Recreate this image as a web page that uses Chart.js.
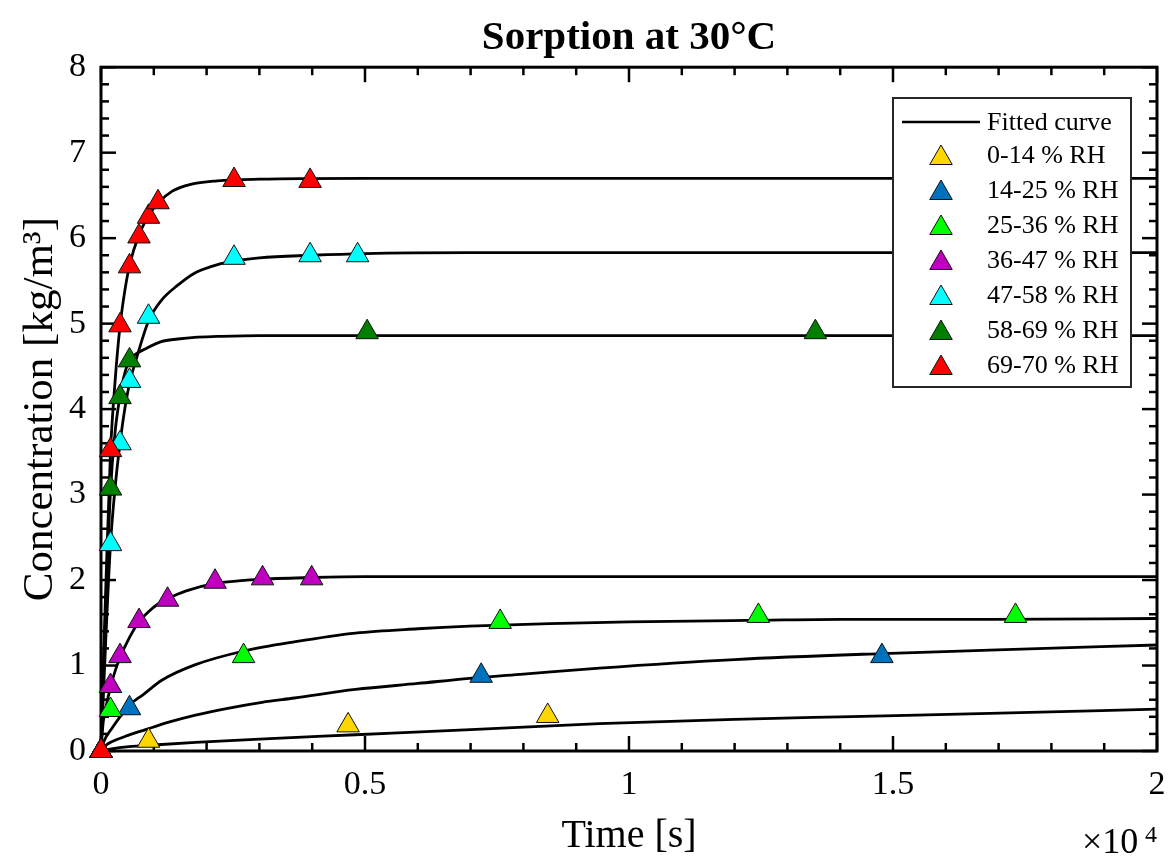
<!DOCTYPE html>
<html>
<head>
<meta charset="utf-8">
<script src="https://cdn.jsdelivr.net/npm/chart.js@4/dist/chart.umd.min.js"></script>
<style>
  html, body { margin: 0; padding: 0; background: #fff; }
  #wrap { width: 1171px; height: 862px; }
</style>
</head>
<body>
<div id="wrap"><canvas id="c" width="1171" height="862"></canvas></div>
<script>
// ---------------- DATA ----------------
const seriesLabels = ['0-14 % RH', '14-25 % RH', '25-36 % RH', '36-47 % RH', '47-58 % RH', '58-69 % RH', '69-70 % RH'];
const fitLabel = 'Fitted curve';
const titleText = 'Sorption at 30°C';
const xTitle = 'Time [s]';
const yTitle = 'Concentration [kg/m³]';
const xTickValues = [0, 5000, 10000, 15000, 20000];
const xTickLabels = ['0', '0.5', '1', '1.5', '2'];
const yTickValues = [0, 1, 2, 3, 4, 5, 6, 7, 8];

// measured points (time in s, concentration in kg/m3)
const t0014 = [0, 900, 4680, 8460];
const c0014 = [0, 0.12, 0.30, 0.41];
const t1425 = [0, 540, 7200, 14790];
const c1425 = [0, 0.50, 0.88, 1.11];
const t2536 = [0, 180, 2700, 7560, 12450, 17320];
const c2536 = [0, 0.48, 1.11, 1.51, 1.58, 1.58];
const t3647 = [0, 180, 360, 720, 1260, 2160, 3060, 3990];
const c3647 = [0, 0.76, 1.11, 1.52, 1.77, 1.98, 2.02, 2.02];
const t4758 = [0, 180, 360, 540, 900, 2520, 3960, 4860];
const c4758 = [0, 2.42, 3.60, 4.33, 5.08, 5.77, 5.80, 5.80];
const t5869 = [0, 180, 360, 540, 5040, 13530];
const c5869 = [0, 3.07, 4.14, 4.57, 4.90, 4.90];
const t6970 = [0, 180, 360, 540, 720, 900, 1080, 2520, 3960];
const c6970 = [0, 3.52, 4.98, 5.67, 6.02, 6.25, 6.42, 6.68, 6.67];

// fitted curves
const ft0014 = [0, 200, 530, 1000, 1790, 3000, 4820, 7000, 9440, 12000, 14000, 16830, 20000];
const fc0014 = [0, 0.025, 0.05, 0.07, 0.10, 0.14, 0.19, 0.25, 0.32, 0.37, 0.40, 0.44, 0.49];
const ft1425 = [0, 100, 212, 500, 843, 1300, 1790, 2400, 3050, 3665, 4820, 6000, 6980, 8000, 9440, 12000, 14800, 16830, 20000];
const fc1425 = [0, 0.07, 0.11, 0.18, 0.25, 0.34, 0.42, 0.50, 0.57, 0.62, 0.72, 0.79, 0.85, 0.90, 0.97, 1.07, 1.14, 1.18, 1.24];
const ft2536 = [0, 60, 212, 527, 800, 1159, 1790, 2705, 3684, 4820, 6000, 6980, 8500, 10000, 12500, 14000, 16830, 20000];
const fc2536 = [0, 0.12, 0.27, 0.53, 0.66, 0.83, 1.01, 1.17, 1.28, 1.38, 1.43, 1.46, 1.49, 1.51, 1.53, 1.54, 1.54, 1.55];
const ft3647 = [0, 40, 90, 180, 270, 360, 540, 720, 900, 1080, 1260, 1600, 2160, 2600, 3060, 4000, 5000, 7000, 20000];
const fc3647 = [0, 0.33, 0.50, 0.75, 0.94, 1.09, 1.33, 1.51, 1.63, 1.72, 1.78, 1.87, 1.96, 1.99, 2.01, 2.03, 2.04, 2.04, 2.04];
const ft4758 = [0, 45, 90, 180, 270, 360, 450, 540, 685, 900, 1140, 1455, 1770, 2100, 2400, 3000, 4000, 5000, 7000, 20000];
const fc4758 = [0, 0.65, 1.3, 2.42, 3.1, 3.6, 4.0, 4.3, 4.62, 5.03, 5.27, 5.45, 5.59, 5.67, 5.72, 5.77, 5.80, 5.82, 5.83, 5.83];
const ft5869 = [0, 45, 90, 180, 270, 360, 450, 540, 650, 824, 1140, 1455, 1771, 2200, 3000, 20000];
const fc5869 = [0, 0.9, 1.7, 3.05, 3.75, 4.15, 4.42, 4.57, 4.64, 4.70, 4.79, 4.82, 4.84, 4.85, 4.86, 4.86];
const ft6970 = [0, 45, 90, 180, 270, 360, 450, 540, 720, 900, 1080, 1350, 1700, 2200, 3000, 5000, 20000];
const fc6970 = [0, 1.0, 1.9, 3.5, 4.35, 4.97, 5.38, 5.68, 6.04, 6.26, 6.41, 6.55, 6.63, 6.67, 6.69, 6.70, 6.70];

// ---------------- STYLE ----------------
const markerColors = ['#FFD700', '#0072BD', '#00FF00', '#BF00BF', '#00FFFF', '#007F00', '#FF0000'];
const FONT = '"Liberation Serif", "Times New Roman", serif';

const pts = (ts, cs) => ts.map((t, i) => ({x: t, y: cs[i]}));
const measured = [[t0014, c0014], [t1425, c1425], [t2536, c2536], [t3647, c3647], [t4758, c4758], [t5869, c5869], [t6970, c6970]];
const fitted = [[ft0014, fc0014], [ft1425, fc1425], [ft2536, fc2536], [ft3647, fc3647], [ft4758, fc4758], [ft5869, fc5869], [ft6970, fc6970]];

const datasets = [];
fitted.forEach(([ts, cs], i) => {
  datasets.push({
    label: i === 0 ? fitLabel : fitLabel + ' ' + i,
    isFit: true,
    data: pts(ts, cs),
    showLine: true,
    borderColor: '#000',
    borderWidth: 2.8,
    pointRadius: 0,
    pointHoverRadius: 0,
    fill: false,
    cubicInterpolationMode: 'monotone',
    clip: false,
    order: 20
  });
});
measured.forEach(([ts, cs], i) => {
  datasets.push({
    label: seriesLabels[i],
    isFit: false,
    data: pts(ts, cs),
    showLine: false,
    pointStyle: 'triangle',
    pointRadius: 13,
    pointHoverRadius: 13,
    backgroundColor: markerColors[i],
    borderColor: '#111',
    pointBorderWidth: 1,
    borderWidth: 1,
    clip: false,
    order: 10 - i
  });
});

// frame + inward ticks (mirrored), drawn below the data
const framePlugin = {
  id: 'frame',
  beforeDatasetsDraw(chart) {
    const {ctx, chartArea: a, scales: {x, y}} = chart;
    ctx.save();
    ctx.strokeStyle = '#000';
    ctx.lineCap = 'butt';
    ctx.lineWidth = 2.5;
    const seg = (x1, y1, x2, y2) => { ctx.beginPath(); ctx.moveTo(x1, y1); ctx.lineTo(x2, y2); ctx.stroke(); };
    for (let k = 0; k <= 20; k++) {
      const v = k * 1000;
      const px = x.getPixelForValue(v);
      const len = (k % 5 === 0) ? 15 : 8;
      seg(px, a.bottom, px, a.bottom - len);
      seg(px, a.top, px, a.top + len);
    }
    for (let k = 0; k <= 40; k++) {
      const v = k * 0.2;
      const py = y.getPixelForValue(v);
      const len = (k % 5 === 0) ? 15 : 8;
      seg(a.left, py, a.left + len, py);
      seg(a.right, py, a.right - len, py);
    }
    ctx.lineWidth = 3;
    ctx.strokeRect(a.left, a.top, a.right - a.left, a.bottom - a.top);
    ctx.restore();
  }
};

// legend box + exponent label, drawn on top
const legendPlugin = {
  id: 'customLegend',
  afterDatasetsDraw(chart) {
    const {ctx} = chart;
    ctx.save();
    const bx = 893, by = 98, bw = 238, bh = 289;
    ctx.fillStyle = '#fff';
    ctx.fillRect(bx, by, bw, bh);
    ctx.strokeStyle = '#262626';
    ctx.lineWidth = 2;
    ctx.strokeRect(bx, by, bw, bh);
    ctx.font = '26px ' + FONT;
    ctx.textBaseline = 'middle';
    ctx.textAlign = 'left';
    ctx.strokeStyle = '#000';
    ctx.lineWidth = 2.5;
    ctx.beginPath(); ctx.moveTo(902, 122); ctx.lineTo(980, 122); ctx.stroke();
    ctx.fillStyle = '#000';
    ctx.fillText(fitLabel, 987, 123);
    const markers = chart.data.datasets.filter(d => !d.isFit);
    markers.forEach((d, i) => {
      const yy = 155 + 35 * i;
      ctx.fillStyle = d.backgroundColor;
      ctx.strokeStyle = d.borderColor;
      ctx.lineWidth = 1;
      Chart.helpers.drawPoint(ctx, {pointStyle: 'triangle', radius: 13, borderWidth: 1, rotation: 0}, 941, yy + 3);
      ctx.fillStyle = '#000';
      ctx.fillText(d.label, 987, yy + 1);
    });
    ctx.fillStyle = '#000';
    ctx.textBaseline = 'alphabetic';
    ctx.font = '36px ' + FONT;
    ctx.fillText('×10', 1082, 853);
    ctx.font = '24px ' + FONT;
    ctx.fillText('4', 1145, 842);
    ctx.restore();
  }
};

new Chart(document.getElementById('c'), {
  type: 'scatter',
  data: { datasets },
  plugins: [framePlugin, legendPlugin],
  options: {
    responsive: false,
    animation: false,
    devicePixelRatio: 1,
    layout: { padding: { left: 0, right: 13, top: 0, bottom: 0 } },
    plugins: {
      legend: { display: false },
      tooltip: { enabled: false },
      title: {
        display: true,
        fullSize: false,
        text: titleText,
        color: '#000',
        font: { family: FONT, size: 41, weight: 'bold' },
        padding: { top: 14, bottom: 4 }
      }
    },
    scales: {
      x: {
        type: 'linear',
        min: 0, max: 20000,
        afterBuildTicks: s => { s.ticks = xTickValues.map(v => ({value: v})); },
        afterFit: s => { s.height = 111; s.paddingLeft = 0; s.paddingRight = 0; },
        ticks: {
          color: '#000',
          font: { family: FONT, size: 34 },
          padding: 14,
          maxRotation: 0,
          autoSkip: false,
          callback: v => xTickLabels[xTickValues.indexOf(v)]
        },
        grid: { display: false, drawTicks: false },
        border: { display: false },
        title: {
          display: true, text: xTitle, color: '#000',
          font: { family: FONT, size: 40 },
          padding: { top: 0, bottom: 2 }
        }
      },
      y: {
        type: 'linear',
        min: 0, max: 8,
        afterBuildTicks: s => { s.ticks = yTickValues.map(v => ({value: v})); },
        afterFit: s => { s.width = 101; s.paddingTop = 0; s.paddingBottom = 0; },
        ticks: {
          color: '#000',
          font: { family: FONT, size: 34 },
          padding: 15,
          autoSkip: false
        },
        grid: { display: false, drawTicks: false },
        border: { display: false },
        title: {
          display: true, text: yTitle, color: '#000',
          font: { family: FONT, size: 43 },
          padding: { top: 15, bottom: 0 }
        }
      }
    }
  }
});
</script>
</body>
</html>
